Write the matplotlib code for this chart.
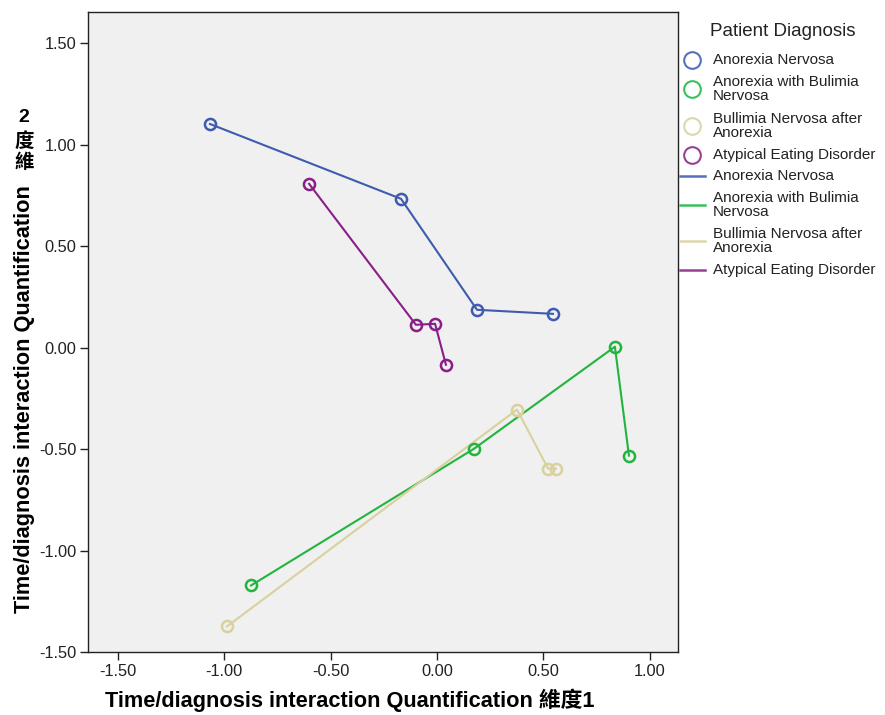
import matplotlib
matplotlib.use("Agg")
import matplotlib.pyplot as plt
from matplotlib.lines import Line2D

plt.rcParams['font.family'] = ['Liberation Sans', 'Noto Sans CJK TC', 'DejaVu Sans']

W, H = 885, 715

groups = ["Anorexia Nervosa", "Anorexia with Bulimia Nervosa",
          "Bullimia Nervosa after Anorexia", "Atypical Eating Disorder"]
legend_labels = ["Anorexia Nervosa", "Anorexia with Bulimia\nNervosa",
                 "Bullimia Nervosa after\nAnorexia", "Atypical Eating Disorder"]
colors = ["#3F5BB0", "#21B53F", "#D8D19E", "#8A1E88"]
legend_colors = ["#5670C0", "#3CC05A", "#DDD7AE", "#9A3F98"]

an_x = [-1.067, -0.169, 0.188, 0.545]
an_y = [1.103, 0.734, 0.187, 0.167]
abn_x = [-0.874, 0.174, 0.836, 0.902]
abn_y = [-1.172, -0.498, 0.005, -0.532]
bna_x = [-0.987, 0.376, 0.522, 0.559]
bna_y = [-1.374, -0.305, -0.596, -0.596]
aed_x = [-0.601, -0.099, -0.009, 0.042]
aed_y = [0.808, 0.113, 0.118, -0.084]

series_x = [an_x, abn_x, bna_x, aed_x]
series_y = [an_y, abn_y, bna_y, aed_y]

xticks = [-1.5, -1.0, -0.5, 0.0, 0.5, 1.0]
yticks = [-1.5, -1.0, -0.5, 0.0, 0.5, 1.0, 1.5]


def fx(px):
    return px / W


def fy(py):
    return 1 - py / H


fig = plt.figure(figsize=(W / 100, H / 100), dpi=100)
ax = fig.add_axes([fx(88), fy(652), 590 / W, 640 / H])
ax.set_facecolor("#F0F0F0")

for xs, ys, c in zip(series_x, series_y, colors):
    ax.plot(xs, ys, color=c, linewidth=1.5, zorder=2)
    ax.plot(xs, ys, linestyle='none', marker='o', markersize=8,
            markerfacecolor='none', markeredgecolor=c, markeredgewidth=1.8, zorder=3)

ax.set_xlim(-1.640, 1.1325)
ax.set_ylim(-1.5, 1.655)
ax.set_xticks(xticks)
ax.set_yticks(yticks)
ax.set_xticklabels([f"{v:.2f}" for v in xticks])
ax.set_yticklabels([f"{v:.2f}" for v in yticks])
ax.tick_params(direction='out', length=5.5, width=1, labelsize=11.8, colors='#222222', pad=3)
for s in ax.spines.values():
    s.set_linewidth(1)
    s.set_color('#222222')

# X axis title
fig.text(fx(350), fy(700), "Time/diagnosis interaction Quantification 維度1",
         fontsize=15.7, fontweight='bold', ha='center', va='center')

# Y axis title: latin part rotated, CJK characters stacked upright
fig.text(fx(25), fy(185), "Time/diagnosis interaction Quantification",
         fontsize=15.7, fontweight='bold', rotation=90, ha='center', va='top')
for ch, py in zip(["維", "度", "2"], [163, 142, 118]):
    fig.text(fx(24), fy(py), ch, fontsize=14, fontweight='bold',
             ha='center', va='center')

# Legend (drawn manually for exact spacing)
fig.text(fx(710), fy(31), "Patient Diagnosis", fontsize=13.5, ha='left', va='center',
         color='#222222')
row_y = [60, 89, 126, 155, 176, 205, 241, 270]
for i in range(4):
    fig.add_artist(Line2D([fx(692)], [fy(row_y[i])], transform=fig.transFigure,
                          linestyle='none', marker='o', markersize=12,
                          markerfacecolor='none', markeredgecolor=legend_colors[i],
                          markeredgewidth=1.5))
    fig.text(fx(713), fy(row_y[i]), legend_labels[i], fontsize=11, ha='left',
             va='center', linespacing=1.05, color='#222222')
for i in range(4):
    py = row_y[i + 4]
    fig.add_artist(Line2D([fx(680), fx(705)], [fy(py), fy(py)], transform=fig.transFigure,
                          color=legend_colors[i], linewidth=1.8))
    fig.text(fx(713), fy(py), legend_labels[i], fontsize=11, ha='left',
             va='center', linespacing=1.05, color='#222222')

fig.savefig("out.png", dpi=100)
